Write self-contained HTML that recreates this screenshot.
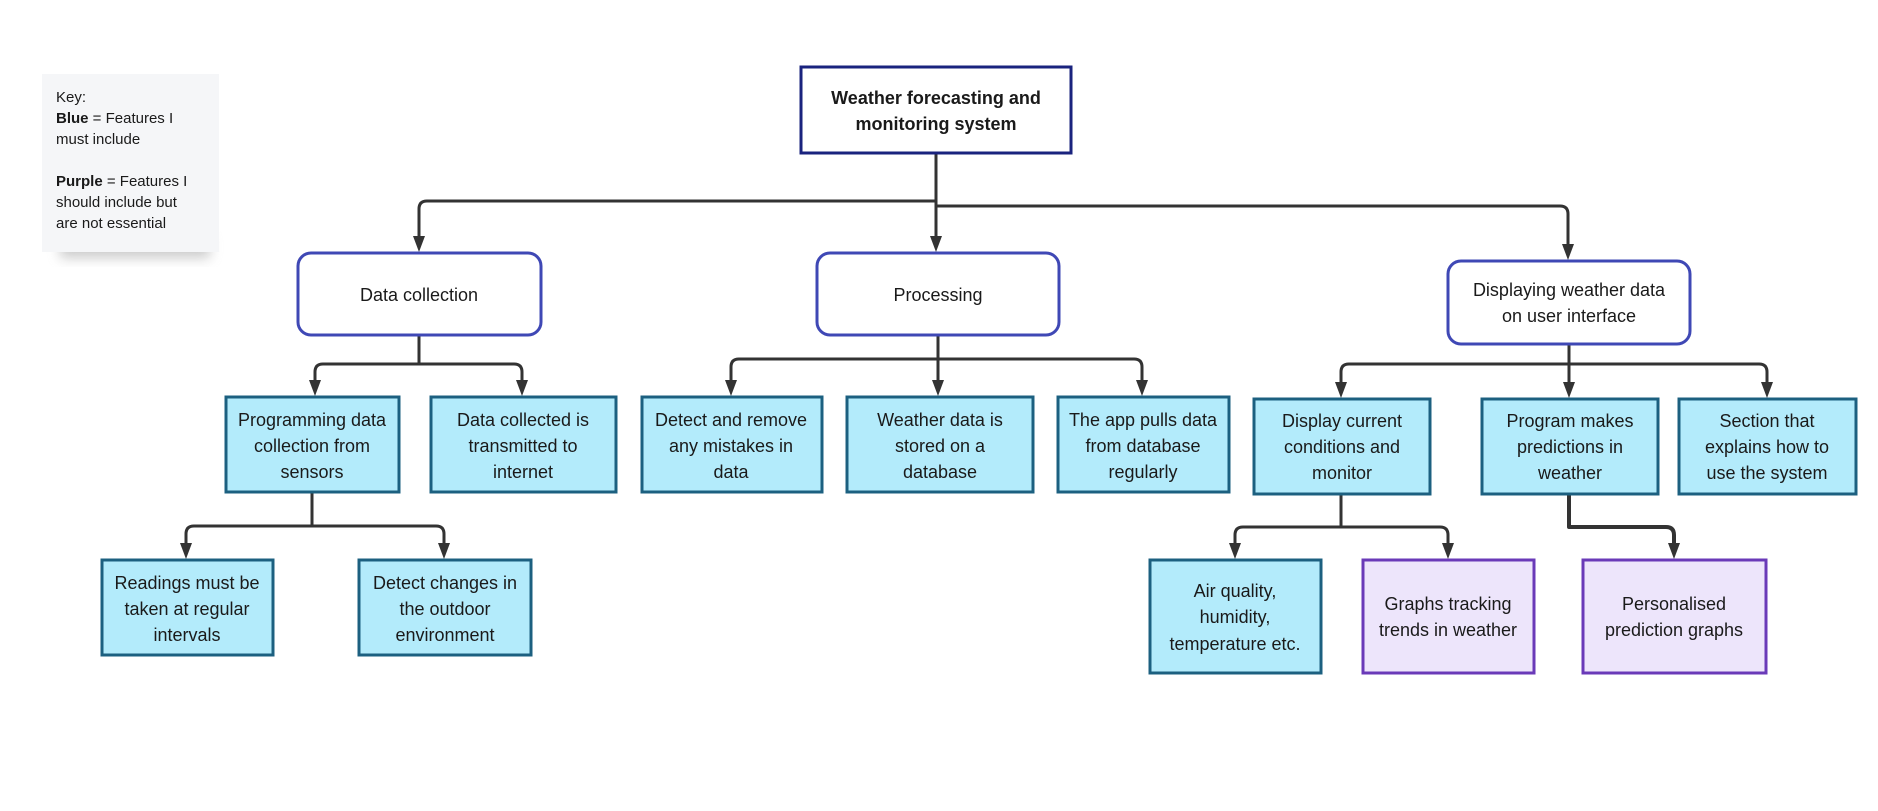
<!DOCTYPE html>
<html><head><meta charset="utf-8"><style>
body{margin:0;background:#fff;}
svg text{font-family:"Liberation Sans",sans-serif;fill:#1a1a1a;}
</style></head><body>
<svg width="1878" height="806" viewBox="0 0 1878 806" xmlns="http://www.w3.org/2000/svg">
<defs>
<marker id="a" markerWidth="10" markerHeight="10" refX="8" refY="5" orient="auto" markerUnits="userSpaceOnUse" viewBox="0 0 10 10">
</marker>
<filter id="sh" x="-20%" y="-20%" width="140%" height="160%"><feGaussianBlur stdDeviation="6"/></filter>
</defs>
<!-- key -->
<rect x="60" y="236" width="150" height="22" fill="#999" opacity="0.5" filter="url(#sh)"/>
<rect x="42" y="74" width="177" height="178" fill="#f5f6f8"/>
<g font-size="15">
<text x="56" y="102">Key:</text>
<text x="56" y="123"><tspan font-weight="bold">Blue</tspan> = Features I</text>
<text x="56" y="144">must include</text>
<text x="56" y="186"><tspan font-weight="bold">Purple</tspan> = Features I</text>
<text x="56" y="207">should include but</text>
<text x="56" y="228">are not essential</text>
</g>
<!-- connectors -->
<g fill="none" stroke="#333" stroke-width="3" stroke-linejoin="round">
<path d="M936 153 V201 H427 Q419 201 419 209 V240"/>
<path d="M936 153 V240"/>
<path d="M936 153 V206 H1560 Q1568 206 1568 214 V248"/>
<path d="M419 335 V364 H323 Q315 364 315 372 V384"/>
<path d="M419 335 V364 H514 Q522 364 522 372 V384"/>
<path d="M938 335 V359 H739 Q731 359 731 367 V384"/>
<path d="M938 335 V384"/>
<path d="M938 335 V359 H1134 Q1142 359 1142 367 V384"/>
<path d="M1569 344 V364 H1349 Q1341 364 1341 372 V386"/>
<path d="M1569 344 V386"/>
<path d="M1569 344 V364 H1759 Q1767 364 1767 372 V386"/>
<path d="M312 492 V526 H194 Q186 526 186 534 V547"/>
<path d="M312 492 V526 H436 Q444 526 444 534 V547"/>
<path d="M1341 494 V527 H1243 Q1235 527 1235 535 V547"/>
<path d="M1341 494 V527 H1440 Q1448 527 1448 535 V547"/>
<path d="M1569 494 V527 H1666 Q1674 527 1674 535 V547" stroke-width="4"/>
</g>
<g fill="#333">
<path d="M413 236 L425 236 L419 252 Z"/>
<path d="M930 236 L942 236 L936 252 Z"/>
<path d="M1562 244 L1574 244 L1568 260 Z"/>
<path d="M309 380 L321 380 L315 396 Z"/>
<path d="M516 380 L528 380 L522 396 Z"/>
<path d="M725 380 L737 380 L731 396 Z"/>
<path d="M932 380 L944 380 L938 396 Z"/>
<path d="M1136 380 L1148 380 L1142 396 Z"/>
<path d="M1335 382 L1347 382 L1341 398 Z"/>
<path d="M1563 382 L1575 382 L1569 398 Z"/>
<path d="M1761 382 L1773 382 L1767 398 Z"/>
<path d="M180 543 L192 543 L186 559 Z"/>
<path d="M438 543 L450 543 L444 559 Z"/>
<path d="M1229 543 L1241 543 L1235 559 Z"/>
<path d="M1442 543 L1454 543 L1448 559 Z"/>
<path d="M1668 543 L1680 543 L1674 559 Z"/>
</g>
<!-- root -->
<rect x="801" y="67" width="270" height="86" fill="#fff" stroke="#1a237e" stroke-width="3"/>
<g font-size="18" font-weight="bold" text-anchor="middle">
<text x="936" y="104">Weather forecasting and</text>
<text x="936" y="130">monitoring system</text>
</g>
<!-- level 1 -->
<g fill="#fff" stroke="#3f48b5" stroke-width="3">
<rect x="298" y="253" width="243" height="82" rx="13"/>
<rect x="817" y="253" width="242" height="82" rx="13"/>
<rect x="1448" y="261" width="242" height="83" rx="13"/>
</g>
<g font-size="18" text-anchor="middle">
<text x="419" y="301">Data collection</text>
<text x="938" y="301">Processing</text>
<text x="1569" y="296">Displaying weather data</text>
<text x="1569" y="322">on user interface</text>
</g>
<!-- level 2 -->
<g fill="#b3ebfb" stroke="#1c6080" stroke-width="3">
<rect x="226" y="397" width="173" height="95"/>
<rect x="431" y="397" width="185" height="95"/>
<rect x="642" y="397" width="180" height="95"/>
<rect x="847" y="397" width="186" height="95"/>
<rect x="1058" y="397" width="171" height="95"/>
<rect x="1254" y="399" width="176" height="95"/>
<rect x="1482" y="399" width="176" height="95"/>
<rect x="1679" y="399" width="177" height="95"/>
<rect x="102" y="560" width="171" height="95"/>
<rect x="359" y="560" width="172" height="95"/>
<rect x="1150" y="560" width="171" height="113"/>
</g>
<g fill="#ede5fb" stroke="#6a3ab8" stroke-width="3">
<rect x="1363" y="560" width="171" height="113"/>
<rect x="1583" y="560" width="183" height="113"/>
</g>
<g font-size="18" text-anchor="middle">
<text x="312" y="426">Programming data</text><text x="312" y="452">collection from</text><text x="312" y="478">sensors</text>
<text x="523" y="426">Data collected is</text><text x="523" y="452">transmitted to</text><text x="523" y="478">internet</text>
<text x="731" y="426">Detect and remove</text><text x="731" y="452">any mistakes in</text><text x="731" y="478">data</text>
<text x="940" y="426">Weather data is</text><text x="940" y="452">stored on a</text><text x="940" y="478">database</text>
<text x="1143" y="426">The app pulls data</text><text x="1143" y="452">from database</text><text x="1143" y="478">regularly</text>
<text x="1342" y="427">Display current</text><text x="1342" y="453">conditions and</text><text x="1342" y="479">monitor</text>
<text x="1570" y="427">Program makes</text><text x="1570" y="453">predictions in</text><text x="1570" y="479">weather</text>
<text x="1767" y="427">Section that</text><text x="1767" y="453">explains how to</text><text x="1767" y="479">use the system</text>
<text x="187" y="589">Readings must be</text><text x="187" y="615">taken at regular</text><text x="187" y="641">intervals</text>
<text x="445" y="589">Detect changes in</text><text x="445" y="615">the outdoor</text><text x="445" y="641">environment</text>
<text x="1235" y="597">Air quality,</text><text x="1235" y="623">humidity,</text><text x="1235" y="650">temperature etc.</text>
<text x="1448" y="610">Graphs tracking</text><text x="1448" y="636">trends in weather</text>
<text x="1674" y="610">Personalised</text><text x="1674" y="636">prediction graphs</text>
</g>
</svg>
</body></html>
